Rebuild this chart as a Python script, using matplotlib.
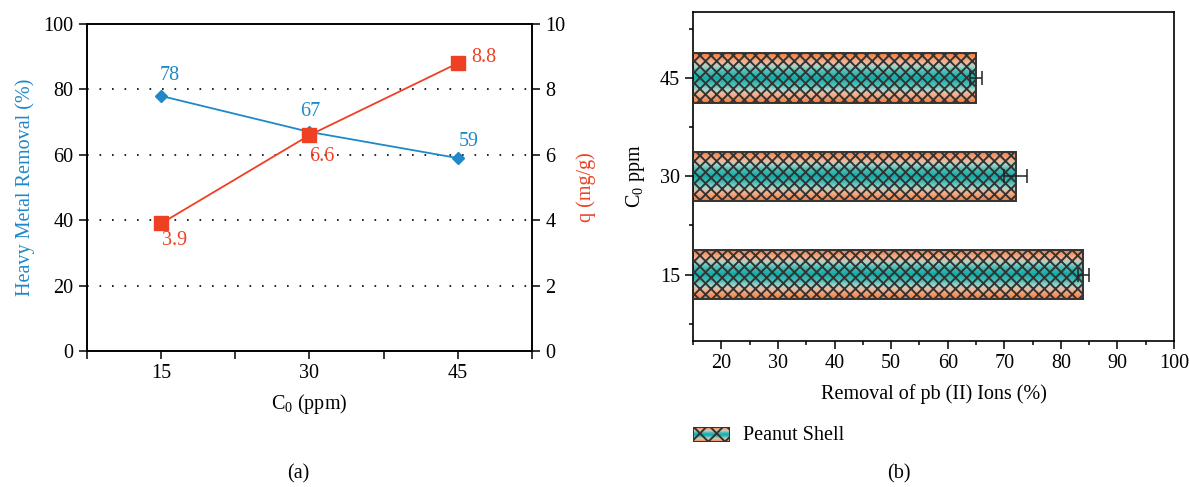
import numpy as np
import matplotlib
matplotlib.use('Agg')
import matplotlib.pyplot as plt
from matplotlib.colors import LinearSegmentedColormap
from matplotlib.patches import Rectangle
from matplotlib.ticker import FixedLocator

plt.rcParams['font.family'] = ['Liberation Serif', 'DejaVu Serif']
plt.rcParams['mathtext.fontset'] = 'custom'
plt.rcParams['mathtext.rm'] = 'Liberation Serif'
plt.rcParams['mathtext.it'] = 'Liberation Serif:italic'
plt.rcParams['hatch.linewidth'] = 1.4

# ---------------- data ----------------
conc = [15, 30, 45]
removal_pct = [78, 67, 59]
q_mg_g = [3.9, 6.6, 8.8]

bar_labels = ['15', '30', '45']
bar_removal = [84, 72, 65]
bar_err = [1, 2, 1]
series_name = 'Peanut Shell'

BLUE = '#1f88c9'
RED = '#ee4124'
FS = 14.5

fig = plt.figure(figsize=(11.89, 4.87), dpi=100)

# ---------------- panel (a) ----------------
ax1 = fig.add_axes([0.0731, 0.2793, 0.3743, 0.6714])
ax1.set_xlim(7.5, 52.5)
ax1.set_ylim(0, 100)
xt = np.arange(7.5, 52.6, 7.5)
ax1.set_xticks(xt)
ax1.set_xticklabels([str(int(v)) if v in conc else '' for v in xt])
ax1.set_yticks(np.arange(0, 101, 20))
ax1.tick_params(direction='out', length=6, width=1.1, labelsize=FS, right=False, top=False)
for v in range(20, 100, 20):
    ax1.axhline(v, color='black', lw=1.2, linestyle=(0, (1, 6.5)), zorder=0)
ax1.plot(conc, removal_pct, color=BLUE, lw=1.3, marker='D', ms=6.5, zorder=3)
blue_off = [(6.5, 14.4), (0.7, 14.4), (8, 12)]
for x, y, off in zip(conc, removal_pct, blue_off):
    ax1.annotate(f'{y}', (x, y), xytext=off, textcoords='offset points',
                 ha='center', va='center', color=BLUE, fontsize=FS)
ax1.set_ylabel('Heavy Metal Removal (%)', color=BLUE, fontsize=FS, labelpad=6)
ax1.set_xlabel('C$_{\\mathrm{0}}$ (ppm)', fontsize=FS, labelpad=6)

ax2 = ax1.twinx()
ax2.set_ylim(0, 10)
ax2.set_yticks(np.arange(0, 11, 2))
ax2.tick_params(direction='out', length=6, width=1.1, labelsize=FS)
ax2.plot(conc, q_mg_g, color=RED, lw=1.3, marker='s', ms=10, zorder=3)
red_off = [(10, -12.5), (8.6, -15), (18.7, 4.3)]
for x, y, off in zip(conc, q_mg_g, red_off):
    ax2.annotate(f'{y}', (x, y), xytext=off, textcoords='offset points',
                 ha='center', va='center', color=RED, fontsize=FS)
ax2.set_ylabel('q (mg/g)', color=RED, fontsize=FS, labelpad=8)
for a in (ax1, ax2):
    for s in a.spines.values():
        s.set_linewidth(1.2)

# ---------------- panel (b) ----------------
grad_cmap = LinearSegmentedColormap.from_list('ps', [
    (0.0, '#ee7a36'), (0.10, '#f29a6c'), (0.19, '#f2b89a'), (0.27, '#a3d5ca'),
    (0.36, '#4fc0b7'), (0.5, '#10aca8'), (0.64, '#4fc0b7'), (0.73, '#a3d5ca'),
    (0.81, '#f2b89a'), (0.90, '#f29a6c'), (1.0, '#ee7a36')])
grad = np.linspace(0, 1, 256).reshape(-1, 1)

ax3 = fig.add_axes([0.5829, 0.3008, 0.4045, 0.6745])
ypos = np.arange(len(bar_labels))
bars = ax3.barh(ypos, bar_removal, height=0.5, facecolor='none', edgecolor='#333333',
                hatch='xxx', lw=1.4, zorder=3)
for r in bars.patches:
    ax3.imshow(grad, cmap=grad_cmap, aspect='auto', interpolation='bilinear', zorder=2,
               extent=[r.get_x(), r.get_x() + r.get_width(), r.get_y(), r.get_y() + r.get_height()])
ax3.errorbar(bar_removal, ypos, xerr=bar_err, fmt='none', ecolor='#222222',
             elinewidth=1.1, capsize=5, capthick=1.1, zorder=4)
ax3.set_xlim(15, 100)
ax3.set_ylim(-0.67, 2.67)
ax3.xaxis.set_major_locator(FixedLocator(np.arange(20, 101, 10)))
ax3.xaxis.set_minor_locator(FixedLocator(np.arange(15, 100, 10)))
ax3.set_yticks(ypos)
ax3.set_yticklabels(bar_labels)
ax3.yaxis.set_minor_locator(FixedLocator(np.arange(-0.5, 2.6, 1)))
ax3.tick_params(which='major', direction='out', length=6, width=1.1, labelsize=FS)
ax3.tick_params(which='minor', direction='out', length=3, width=1.1)
ax3.set_xlabel('Removal of pb (II) Ions (%)', fontsize=FS, labelpad=8)
ax3.set_ylabel('C$_{\\mathrm{0}}$ ppm', fontsize=FS, labelpad=9)
for s in ax3.spines.values():
    s.set_linewidth(1.2)

# legend swatch
axl = fig.add_axes([693 / 1189, 1 - 442 / 487, 37 / 1189, 15 / 487])
axl.imshow(grad, cmap=grad_cmap, aspect='auto', interpolation='bilinear', extent=[0, 1, 0, 1])
axl.add_patch(Rectangle((0, 0), 1, 1, facecolor='none', edgecolor='#333333', hatch='xx', lw=1.4))
axl.set_xlim(0, 1)
axl.set_ylim(0, 1)
axl.axis('off')
fig.text(743 / 1189, 1 - 435 / 487, series_name, fontsize=FS, va='center', ha='left')

fig.text(298 / 1189, 1 - 474 / 487, '(a)', fontsize=FS, ha='center', va='center')
fig.text(899 / 1189, 1 - 474 / 487, '(b)', fontsize=FS, ha='center', va='center')

fig.savefig('out.png', dpi=100)
